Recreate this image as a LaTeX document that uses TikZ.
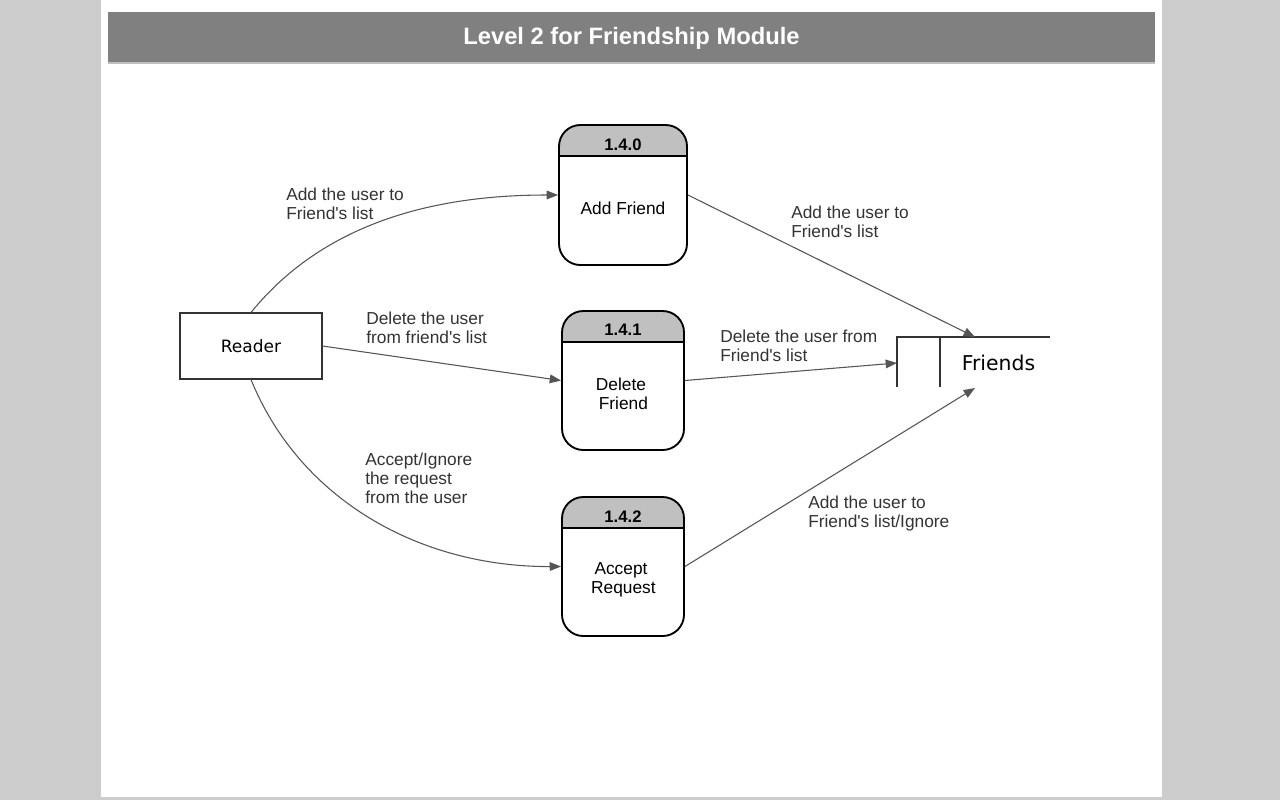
\documentclass[tikz,border=0pt]{standalone}
\usepackage{fontspec}
\setmainfont{Liberation Sans}[Ligatures=TeXOff]
\newfontfamily\dejavu{DejaVu Sans}
\usetikzlibrary{arrows.meta}
\definecolor{pagegray}{HTML}{CCCCCC}
\definecolor{titlegray}{HTML}{808080}
\definecolor{hdrgray}{HTML}{C0C0C0}
\definecolor{flowgray}{HTML}{555555}
\definecolor{labelgray}{HTML}{333333}
\tikzset{
  proc/.style={draw=black, line width=1.4pt, rounded corners=16pt, inner sep=0pt,
    path picture={
      \fill[hdrgray, sharp corners] (path picture bounding box.north west) rectangle ([yshift=-23.25pt]path picture bounding box.north east);
      \draw[line width=1.2pt, sharp corners] ([yshift=-23.25pt]path picture bounding box.north west) -- ([yshift=-23.25pt]path picture bounding box.north east);
    }},
  hdr/.style={font=\bfseries\fontsize{12.5}{14}\selectfont, inner sep=0pt},
  ptext/.style={font=\fontsize{13}{14.25}\selectfont, align=center, inner sep=0pt},
  flow/.style={draw=flowgray, line width=0.8pt, -{Triangle[length=8.5pt,width=6.5pt]}},
  lbl/.style={font=\fontsize{13}{14.25}\selectfont, text=labelgray, align=left, inner sep=0pt, anchor=west},
  store/.style={draw=labelgray, line width=0.8pt}
}
\begin{document}
\begin{tikzpicture}[x=0.75pt,y=-0.75pt]
\useasboundingbox (0,0) rectangle (1280,800);
\fill[pagegray] (0,0) rectangle (1280,800);
\fill[white] (101,0) rectangle (1162,797);
\fill[black!25] (108,62) rectangle (1155,64);
\fill[titlegray] (108,12) rectangle (1155,62);
\node[font=\bfseries\fontsize{17.8}{21}\selectfont, text=white, inner sep=0pt] (title) at (631.5,38.5) {Level 2 for Friendship Module};

% processes
\node[proc, minimum width=128*0.75pt, minimum height=140*0.75pt] (p0) at (623,195) {};
\node[proc, minimum width=122*0.75pt, minimum height=139*0.75pt] (p1) at (623,380.5) {};
\node[proc, minimum width=122*0.75pt, minimum height=139*0.75pt] (p2) at (623,566.5) {};
\node[hdr] (h0) at (623,145) {1.4.0};
\node[hdr] (h1) at (623,330) {1.4.1};
\node[hdr] (h2) at (623,516.5) {1.4.2};
\node[ptext] (t0) at (623,208) {Add Friend};
\node[ptext] (t1) at (621,393.5) {Delete\\ \ Friend};
\node[ptext] (t2) at (621,579.5) {Accept\\ \ Request};

% reader
\node[draw=labelgray, line width=0.8pt, minimum width=142*0.75pt, minimum height=66*0.75pt, inner sep=0pt,
      font=\dejavu\fontsize{12.75}{15}\selectfont] (reader) at (251,346) {Reader};

% data store
\coordinate (fnw) at (897,337);
\coordinate (fne) at (1050,337);
\coordinate (fsw) at (897,387);
\coordinate (fin) at (940,337);
\coordinate (fins) at (940,387);
\coordinate (ftop) at (975,337);
\coordinate (fbot) at (975,388);
\coordinate (fleft) at (897,363);
\draw[store] (fsw) -- (fnw) -- (fne);
\draw[store] (fin) -- (fins);
\node[font=\dejavu\fontsize{15.3}{18}\selectfont, inner sep=0pt] (friends) at (998.5,363) {Friends};

% flows
\draw[flow] (reader.north) .. controls (330,215) and (450,195) .. (p0.west);
\draw[flow] (reader.east) -- (p1.west);
\draw[flow] (reader.south) .. controls (300,500) and (420,567) .. (p2.west);
\draw[flow] (p0.east) -- (ftop);
\draw[flow] (p1.east) -- (fleft);
\draw[flow] (p2.east) -- (fbot);

% labels
\node[lbl] (l1) at (286,203.5) {Add the user to\\Friend's list};
\node[lbl] (l2) at (366,327.5) {Delete the user\\from friend's list};
\node[lbl] (l3) at (365,478) {Accept/Ignore\\the request\\from the user};
\node[lbl] (l4) at (791,221.5) {Add the user to\\Friend's list};
\node[lbl] (l5) at (720,345.5) {Delete the user from\\Friend's list};
\node[lbl] (l6) at (808,513.5) {Add the user to\\Friend's list/Ignore};
\end{tikzpicture}
\end{document}
